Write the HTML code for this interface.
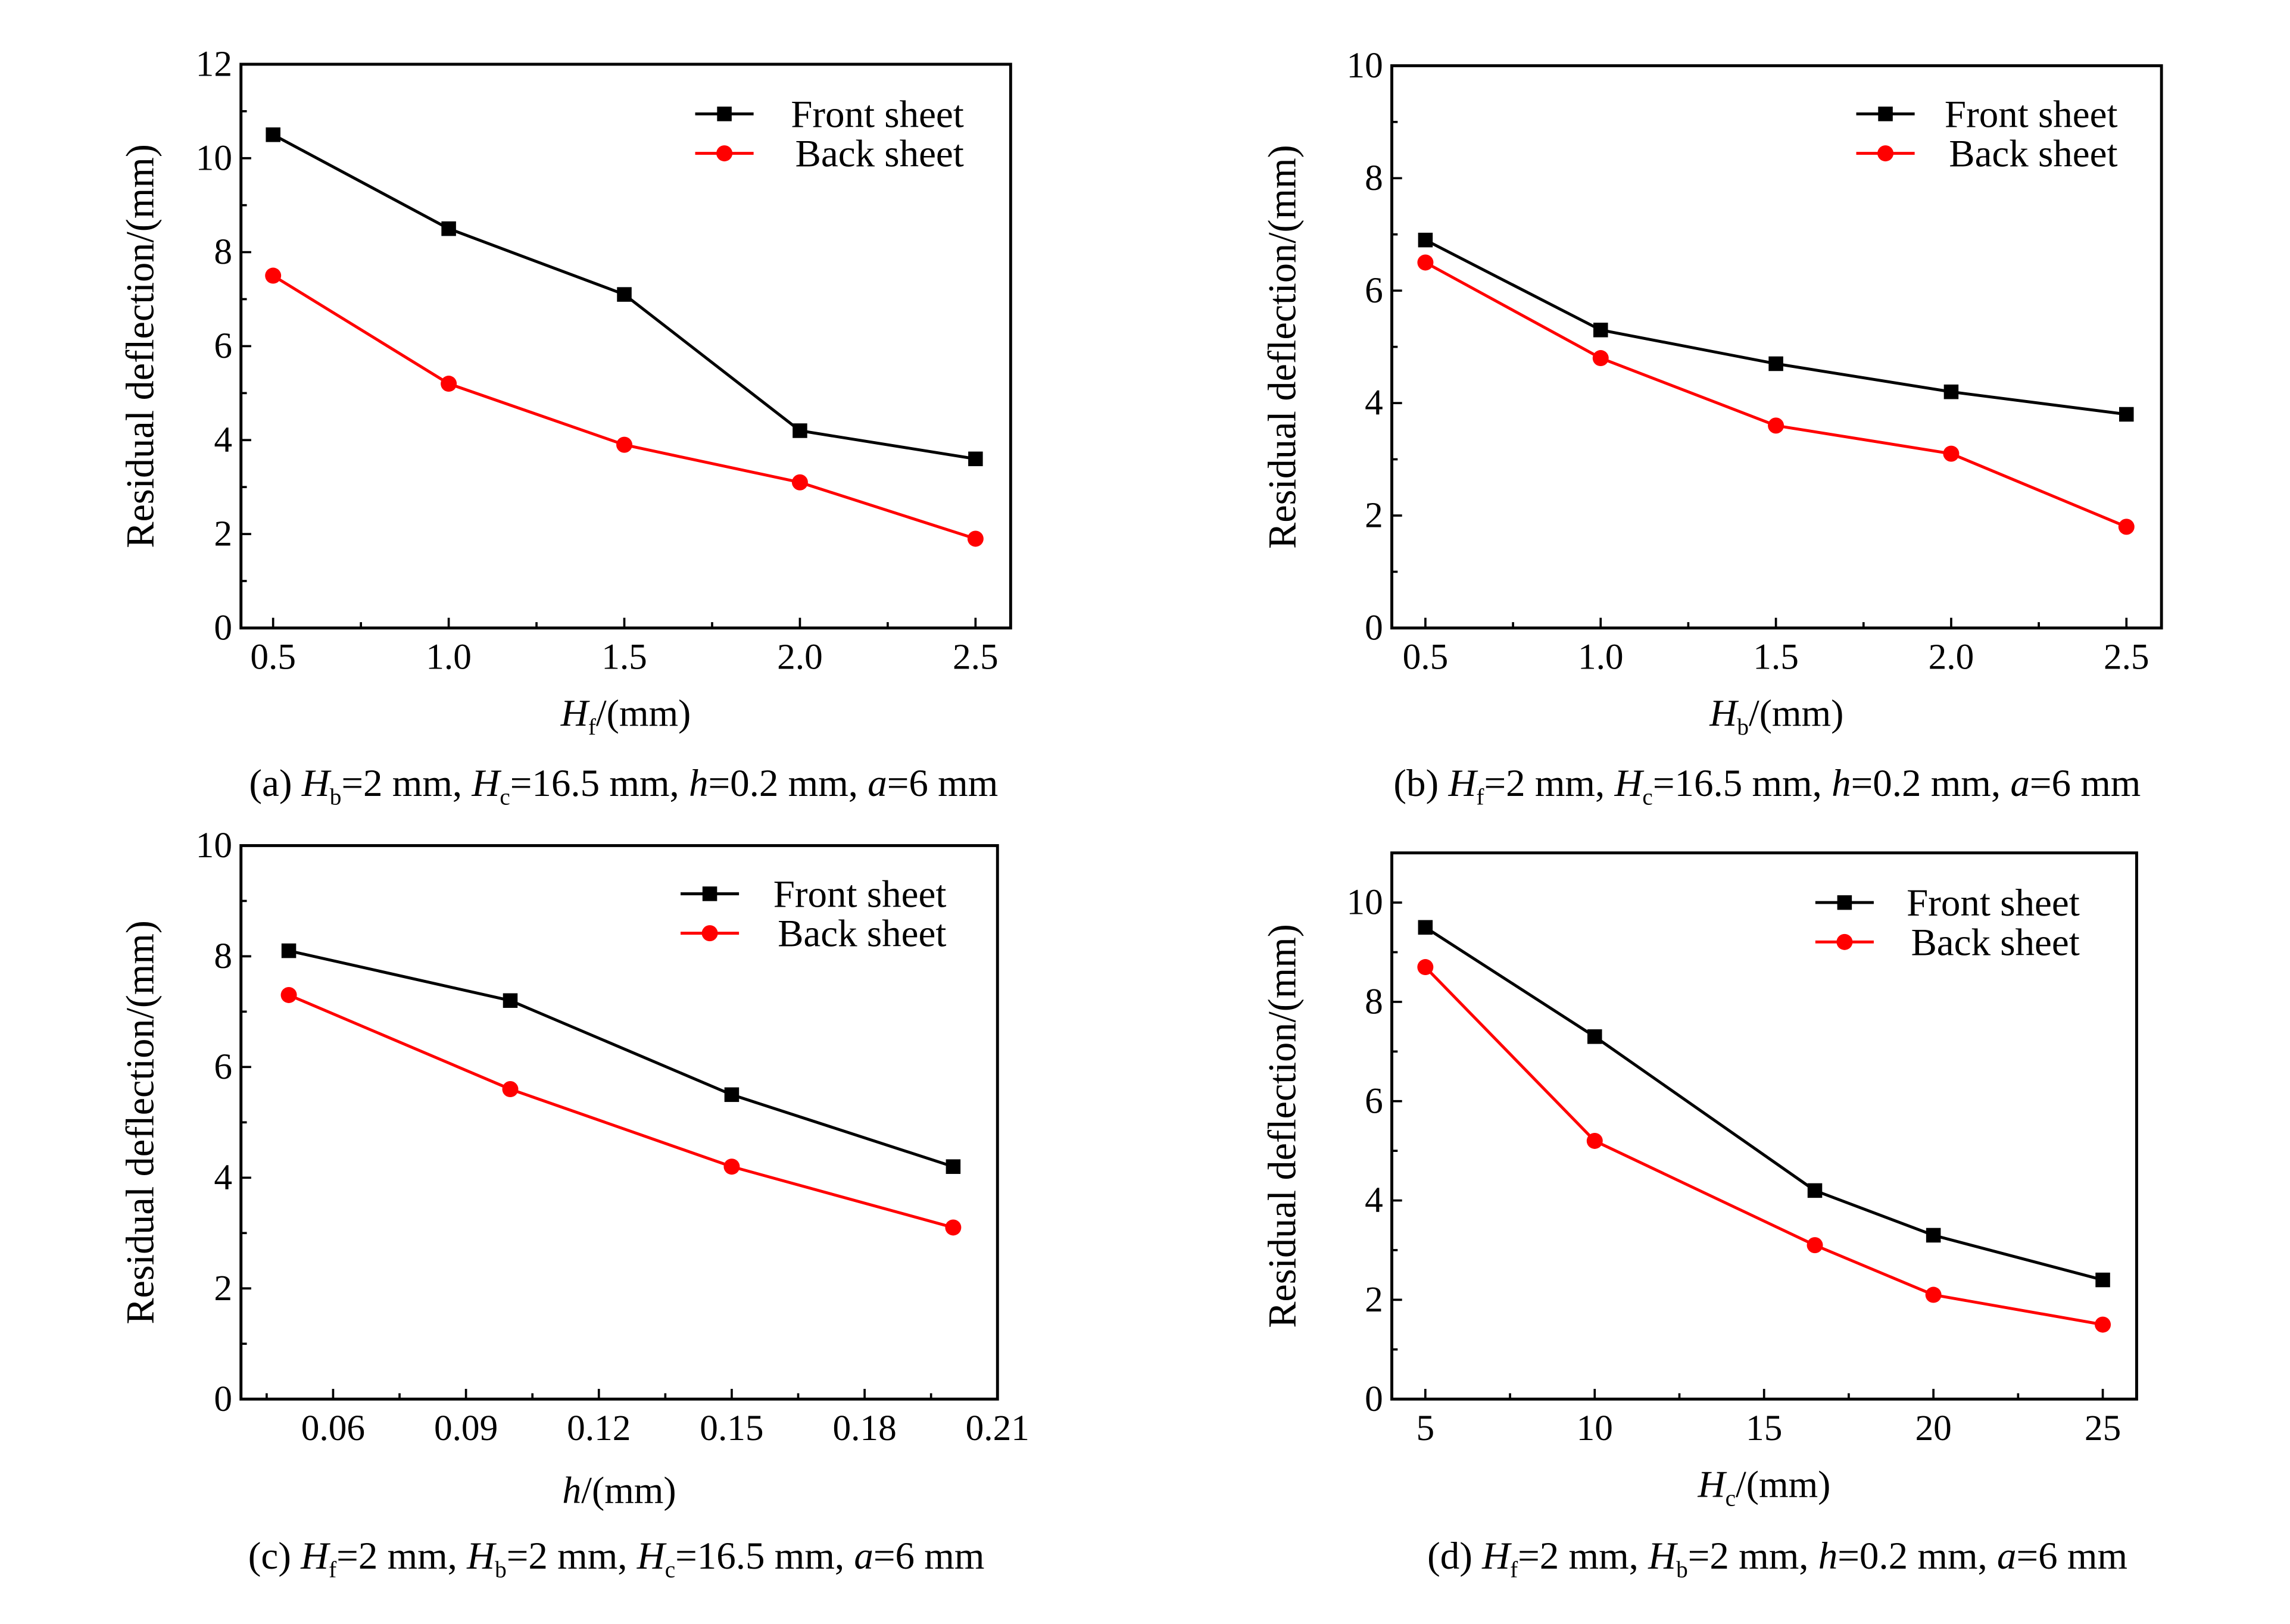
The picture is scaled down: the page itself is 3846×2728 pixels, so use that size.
<!DOCTYPE html>
<html><head><meta charset="utf-8"><style>
html,body{margin:0;padding:0;background:#fff;}
svg{display:block;}
text{font-family:"Liberation Serif","Times New Roman",serif;fill:#000;}
</style></head><body>
<svg id="fig" width="3846" height="2728" viewBox="0 0 1568 1112" preserveAspectRatio="none" font-family="Liberation Serif, serif" xmlns="http://www.w3.org/2000/svg"></svg>
<script>
// Panel (a)
const aX = [0.5, 1.0, 1.5, 2.0, 2.5];
const aFront = [10.5, 8.5, 7.1, 4.2, 3.6];
const aBack = [7.5, 5.2, 3.9, 3.1, 1.9];
const aXTicks = ["0.5", "1.0", "1.5", "2.0", "2.5"];
const aYTicks = ["0", "2", "4", "6", "8", "10", "12"];
// Panel (b)
const bX = [0.5, 1.0, 1.5, 2.0, 2.5];
const bFront = [6.9, 5.3, 4.7, 4.2, 3.8];
const bBack = [6.5, 4.8, 3.6, 3.1, 1.8];
const bXTicks = ["0.5", "1.0", "1.5", "2.0", "2.5"];
const bYTicks = ["0", "2", "4", "6", "8", "10"];
// Panel (c)
const cX = [0.05, 0.10, 0.15, 0.20];
const cFront = [8.1, 7.2, 5.5, 4.2];
const cBack = [7.3, 5.6, 4.2, 3.1];
const cXTicks = ["0.06", "0.09", "0.12", "0.15", "0.18", "0.21"];
const cYTicks = ["0", "2", "4", "6", "8", "10"];
// Panel (d)
const dX = [5, 10, 16.5, 20, 25];
const dFront = [9.5, 7.3, 4.2, 3.3, 2.4];
const dBack = [8.7, 5.2, 3.1, 2.1, 1.5];
const dXTicks = ["5", "10", "15", "20", "25"];
const dYTicks = ["0", "2", "4", "6", "8", "10"];

const NS = "http://www.w3.org/2000/svg";
const svg = document.getElementById('fig');
function el(tag, attrs, parent, txt){
  const e = document.createElementNS(NS, tag);
  for (const k in attrs) e.setAttribute(k, attrs[k]);
  if (txt !== undefined) e.textContent = txt;
  (parent || svg).appendChild(e);
  return e;
}

function panel(cfg){
  const g = el('g', {});
  
  
  const L=cfg.box[0], T=cfg.box[1], R=cfg.box[2], B=cfg.box[3];
  const sx = v => L + (v - cfg.xmin) / (cfg.xmax - cfg.xmin) * (R - L);
  const sy = v => B - (v - cfg.ymin) / (cfg.ymax - cfg.ymin) * (B - T);
  const box = el('rect', {x:L, y:T, width:R-L, height:B-T, fill:'none', stroke:'#000', 'stroke-width':2}, g);
  
  
  cfg.xTicks.forEach((t) => {
    const v = parseFloat(t);
    const x = sx(v);
    el('line', {x1:x, y1:B, x2:x, y2:B-7, stroke:'#000', 'stroke-width':1.5}, g);
    const tx = el('text', {x:x, y:B+28, 'font-size':25, 'text-anchor':'middle'}, g, t);
    
    
    const mv = v + cfg.xStep/2;
    if (mv < cfg.xmax) { const mx = sx(mv); el('line', {x1:mx, y1:B, x2:mx, y2:B-4, stroke:'#000', 'stroke-width':1.5}, g); }
    const pv = v - cfg.xStep/2;
    if (pv > cfg.xmin && t === cfg.xTicks[0]) { const px = sx(pv); el('line', {x1:px, y1:B, x2:px, y2:B-4, stroke:'#000', 'stroke-width':1.5}, g); }
  });
  cfg.yTicks.forEach((t) => {
    const v = parseFloat(t);
    const y = sy(v);
    el('line', {x1:L, y1:y, x2:L+7, y2:y, stroke:'#000', 'stroke-width':1.5}, g);
    const ty = el('text', {x:L-6, y:y+8, 'font-size':25, 'text-anchor':'end'}, g, t);
    
    
    const mv = v + 1;
    if (mv < cfg.ymax) { const my = sy(mv); el('line', {x1:L, y1:my, x2:L+4, y2:my, stroke:'#000', 'stroke-width':1.5}, g); }
  });
  const yt = el('text', {x:0, y:0, 'font-size':27, 'text-anchor':'middle', transform:'translate('+cfg.yTitleX+','+((T+B)/2)+') rotate(-90)'}, g, 'Residual deflection/(mm)');
  
  
  const xt = el('text', {x:(L+R)/2, y:cfg.xTitleY, 'font-size':26, 'text-anchor':'middle'}, g);
  
  
  xt.innerHTML = cfg.xTitle;
  const cap = el('text', {x:cfg.capX, y:cfg.capY, 'font-size':26.5, 'text-anchor':'middle'}, g);
  
  
  cap.innerHTML = cfg.caption;
  const series = [[cfg.front, '#000', 'sq', 'front-sheet'], [cfg.back, '#ff0000', 'ci', 'back-sheet']];
  series.forEach(s => {
    const pts = cfg.x.map((xv, i) => sx(xv) + ',' + sy(s[0][i])).join(' ');
    const pl = el('polyline', {points:pts, fill:'none', stroke:s[1], 'stroke-width':2}, g);
    
    
    cfg.x.forEach((xv, i) => {
      let m;
      if (s[2] === 'sq') m = el('rect', {x:sx(xv)-5, y:sy(s[0][i])-5, width:10, height:10, fill:s[1]}, g);
      else m = el('circle', {cx:sx(xv), cy:sy(s[0][i]), r:5.5, fill:s[1]}, g);
      
      
    });
  });
  const lg = el('g', {}, g);
  
  
  const lx = cfg.leg[0], ly = cfg.leg[1], te = cfg.leg[2];
  [['Front sheet', '#000', 'sq', 0], ['Back sheet', '#ff0000', 'ci', 27]].forEach(e => {
    const y = ly + e[3];
    const en = el('g', {}, lg);
    
    
    el('line', {x1:lx, y1:y, x2:lx+40, y2:y, stroke:e[1], 'stroke-width':2}, en);
    if (e[2] === 'sq') el('rect', {x:lx+15, y:y-5, width:10, height:10, fill:e[1]}, en);
    else el('circle', {cx:lx+20, cy:y, r:5.5, fill:e[1]}, en);
    el('text', {x:te, y:y+9, 'font-size':26.5, 'text-anchor':'end'}, en, e[0]);
  });
}

const sub = (b, s) => '<tspan font-style="italic">' + b + '</tspan><tspan font-size="16" dy="6">' + s + '</tspan><tspan dy="-6">';
panel({id:'a', box:[165,44,692,430], xmin:0.4085, xmax:2.6, ymin:0, ymax:12, xStep:0.5,
  x:aX, front:aFront, back:aBack, xTicks:aXTicks, yTicks:aYTicks,
  yTitleX:105, xTitleY:497, xTitle:sub('H','f')+'/(mm)</tspan>',
  capX:427, capY:545, caption:'(a) '+sub('H','b')+'=2 mm, </tspan>'+sub('H','c')+'=16.5 mm, </tspan><tspan font-style="italic">h</tspan>=0.2 mm, <tspan font-style="italic">a</tspan>=6 mm',
  leg:[476,78,660]});
panel({id:'b', box:[953,45,1480,430], xmin:0.4042, xmax:2.6, ymin:0, ymax:10, xStep:0.5,
  x:bX, front:bFront, back:bBack, xTicks:bXTicks, yTicks:bYTicks,
  yTitleX:887, xTitleY:497, xTitle:sub('H','b')+'/(mm)</tspan>',
  capX:1210, capY:545, caption:'(b) '+sub('H','f')+'=2 mm, </tspan>'+sub('H','c')+'=16.5 mm, </tspan><tspan font-style="italic">h</tspan>=0.2 mm, <tspan font-style="italic">a</tspan>=6 mm',
  leg:[1271,78,1450]});
panel({id:'c', box:[165,579,683,958], xmin:0.0392, xmax:0.21, ymin:0, ymax:10, xStep:0.03,
  x:cX, front:cFront, back:cBack, xTicks:cXTicks, yTicks:cYTicks,
  yTitleX:105, xTitleY:1029, xTitle:'<tspan font-style="italic">h</tspan>/(mm)',
  capX:422, capY:1074, caption:'(c) '+sub('H','f')+'=2 mm, </tspan>'+sub('H','b')+'=2 mm, </tspan>'+sub('H','c')+'=16.5 mm, </tspan><tspan font-style="italic">a</tspan>=6 mm',
  leg:[466,612,648]});
panel({id:'d', box:[953,584,1463,958], xmin:4.01, xmax:26, ymin:0, ymax:11, xStep:5,
  x:dX, front:dFront, back:dBack, xTicks:dXTicks, yTicks:dYTicks,
  yTitleX:887, xTitleY:1025, xTitle:sub('H','c')+'/(mm)</tspan>',
  capX:1217, capY:1074, caption:'(d) '+sub('H','f')+'=2 mm, </tspan>'+sub('H','b')+'=2 mm, </tspan><tspan font-style="italic">h</tspan>=0.2 mm, <tspan font-style="italic">a</tspan>=6 mm',
  leg:[1243,618,1424]});
</script>
</body></html>
